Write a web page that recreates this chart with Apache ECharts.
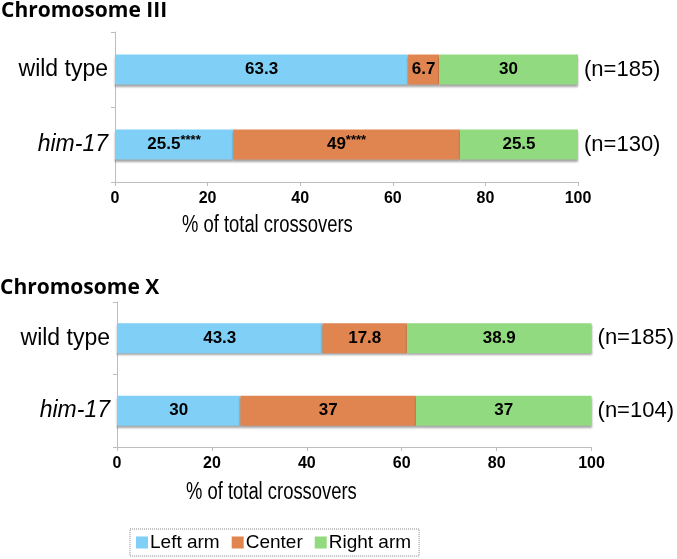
<!DOCTYPE html>
<html><head><meta charset="utf-8">
<script src="https://cdn.jsdelivr.net/npm/echarts@6/dist/echarts.min.js"></script>
<style>html,body{margin:0;padding:0;background:#fff}#c{width:677px;height:559px}</style>
</head><body><div id="c"></div>
<script>
// ---- data ----
const categories = ['wild type', 'him-17'];
const seriesNames = ['Left arm', 'Center', 'Right arm'];
const xTicks = [0, 20, 40, 60, 80, 100];
const xAxisTitle = '% of total crossovers';

const leftIII = [63.3, 25.5];
const centerIII = [6.7, 49];
const rightIII = [30, 25.5];
const leftIIILabels = ['63.3', '25.5****'];
const centerIIILabels = ['6.7', '49****'];
const rightIIILabels = ['30', '25.5'];
const nIII = ['(n=185)', '(n=130)'];

const leftX = [43.3, 26];
const centerX = [17.8, 37];
const rightX = [38.9, 37];
const leftXLabels = ['43.3', '30'];
const centerXLabels = ['17.8', '37'];
const rightXLabels = ['38.9', '37'];
const nX = ['(n=185)', '(n=104)'];

// ---- style ----
const colors = ['#7fcff6', '#e08550', '#92da7f'];
const sans = '"Liberation Sans", Arial, sans-serif';
const axisGray = '#bdbdbd';

function barLabel(labels) {
  return {
    show: true, position: 'inside', color: '#000',
    formatter: p => {
      const s = labels[p.dataIndex];
      const m = s.match(/^([^*]*)(\**)$/);
      return m[2] ? '{v|' + m[1] + '}{s|' + m[2] + '}' : '{v|' + s + '}';
    },
    rich: {
      v: { fontFamily: sans, fontWeight: 'bold', fontSize: 17, color: '#000' },
      s: { fontFamily: sans, fontWeight: 'bold', fontSize: 13, color: '#000', padding: [0, 0, 9, 0] }
    }
  };
}

function mkSeries(gi, stack, vals, labels) {
  return vals.map((v, i) => ({
    name: seriesNames[i], type: 'bar', stack: stack,
    xAxisIndex: gi, yAxisIndex: gi * 2,
    barWidth: 30, data: v,
    itemStyle: { color: colors[i], shadowColor: 'rgba(0,0,0,0.35)', shadowOffsetY: 2, shadowBlur: 2 },
    label: barLabel(labels[i])
  }));
}

function xAxis(gi) {
  return {
    gridIndex: gi, type: 'value', min: 0, max: 100, interval: 20,
    axisLine: { show: true, lineStyle: { color: axisGray } },
    axisTick: { show: true, length: 4, lineStyle: { color: axisGray } },
    splitLine: { show: false },
    axisLabel: {
      margin: 9, color: '#000', fontFamily: sans, fontWeight: 'bold', fontSize: 16,
      formatter: v => xTicks.includes(v) ? String(v) : ''
    }
  };
}

function yAxes(gi, nLabels) {
  return [{
    gridIndex: gi, type: 'category', data: categories, inverse: true,
    axisLine: { show: true, lineStyle: { color: axisGray } },
    axisTick: { show: true, length: 4, lineStyle: { color: axisGray } },
    axisLabel: {
      margin: 7,
      formatter: v => v === 'him-17' ? '{i|' + v + '}' : '{n|' + v + '}',
      rich: {
        n: { fontFamily: sans, fontSize: 23, color: '#000' },
        i: { fontFamily: sans, fontSize: 23, fontStyle: 'italic', color: '#000' }
      }
    }
  }, {
    gridIndex: gi, type: 'category', data: nLabels, inverse: true, position: 'right',
    axisLine: { show: false }, axisTick: { show: false },
    axisLabel: { margin: 6, fontFamily: sans, fontSize: 22, color: '#000' }
  }];
}

function axisTitle(x, y) {
  return {
    type: 'text', x: x, y: y, scaleX: 0.8, silent: true,
    style: { text: xAxisTitle, fontFamily: sans, fontSize: 23, fill: '#000',
             textAlign: 'left', textVerticalAlign: 'top' }
  };
}

const chart = echarts.init(document.getElementById('c'));
chart.setOption({
  animation: false,
  backgroundColor: '#fff',
  title: [
    { text: 'Chromosome III', left: 1, top: 1, padding: 0,
      textStyle: { fontFamily: '"Open Sans", sans-serif', fontWeight: 'bold', fontSize: 21, color: '#000' } },
    { text: 'Chromosome X', left: 0, top: 278, padding: 0,
      textStyle: { fontFamily: '"Open Sans", sans-serif', fontWeight: 'bold', fontSize: 21, color: '#000' } }
  ],
  graphic: [axisTitle(182, 214), axisTitle(186, 481)],
  legend: {
    data: seriesNames, left: 130, top: 529,
    itemWidth: 12, itemHeight: 12, itemGap: 12,
    padding: [4, 8, 4, 6],
    borderColor: '#888', borderWidth: 1, borderType: 'dotted',
    icon: 'rect',
    textStyle: { fontFamily: sans, fontSize: 19, color: '#000', padding: [0, 0, 0, -3] }
  },
  grid: [
    { left: 115, top: 32, width: 463, height: 150 },
    { left: 117, top: 302, width: 475, height: 145 }
  ],
  xAxis: [xAxis(0), xAxis(1)],
  yAxis: [...yAxes(0, nIII), ...yAxes(1, nX)],
  series: [
    ...mkSeries(0, 'III', [leftIII, centerIII, rightIII], [leftIIILabels, centerIIILabels, rightIIILabels]),
    ...mkSeries(1, 'X', [leftX, centerX, rightX], [leftXLabels, centerXLabels, rightXLabels])
  ]
});
</script>
</body></html>
